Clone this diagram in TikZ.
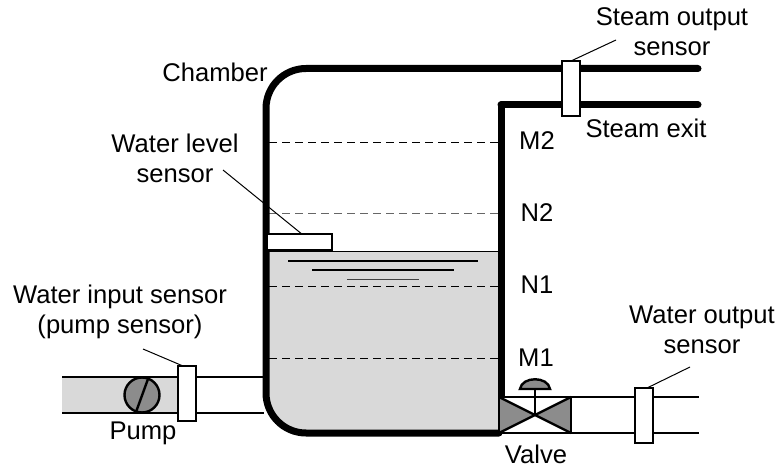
\documentclass[tikz,border=0pt]{standalone}
\usepackage{fontspec}
\setmainfont{Liberation Sans}
\definecolor{watergray}{HTML}{D9D9D9}
\definecolor{partgray}{HTML}{8C8C8C}
\tikzset{
  wall/.style={line width=7pt,line cap=round},
  pipe/.style={line width=2.4pt},
  level/.style={line width=1pt,dash pattern=on 8pt off 5pt},
  sensorbox/.style={draw,fill=white,line width=2.4pt,rectangle,minimum width=18pt,minimum height=55pt,inner sep=0pt,outer sep=0pt},
  leader/.style={line width=1pt},
  lbl/.style={font=\fontsize{25.6}{30}\selectfont,align=center,inner sep=0pt}
}
\begin{document}
\begin{tikzpicture}[x=1pt,y=-1pt]
\useasboundingbox (0,0) rectangle (777,468);
\coordinate (TL) at (266,68.5); \coordinate (BL) at (266,433); \coordinate (BR) at (499,433);
\coordinate (TE) at (698,68.5); \coordinate (LE) at (698,105); \coordinate (RT) at (501,105); \coordinate (RB) at (501,398);
\coordinate (WL) at (266,251.5); \coordinate (WR) at (501,251.5);
\coordinate (P1) at (62,377); \coordinate (P2) at (62,413); \coordinate (P3) at (264,377); \coordinate (P4) at (264,413);
\coordinate (V1) at (499,397); \coordinate (V2) at (571,397); \coordinate (V3) at (499,433); \coordinate (V4) at (571,433); \coordinate (VC) at (535,415);
\coordinate (O1) at (699,397); \coordinate (O2) at (699,433);
% water and pump side of the pipe
\fill[watergray] (WL) [rounded corners=38] -- (BL) [sharp corners] -- (BR) -- (501,433) -- (WR) -- cycle;
\fill[watergray] (P1) rectangle (178,413);
\draw[line width=1.5pt] (WL) -- (WR);
\draw[line width=1.5pt] (288,261) -- (478,261); \draw[line width=1.5pt] (312,270) -- (454,270); \draw[line width=1.5pt,black!75] (347,279.5) -- (419,279.5);
% levels
\draw[level] (269,143) -- (498,143); \draw[level,black!60] (269,214) -- (498,214);
\draw[level] (269,286.5) -- (498,286.5); \draw[level] (269,358) -- (498,358);
% pipes
\draw[pipe] (P1) -- (P3); \draw[pipe] (P2) -- (P4);
\draw[pipe] (V2) -- (O1); \draw[pipe] (V4) -- (O2);
% chamber
\draw[wall,line cap=butt] (RB) -- (RT);
\draw[wall,line join=miter] (RT) -- (LE);
\draw[wall] (TE) [rounded corners=40] -- (TL) -- (BL) [sharp corners] -- (BR);
% valve
\fill[partgray] (V1) -- (VC) -- (V3) -- cycle; \fill[partgray] (V2) -- (VC) -- (V4) -- cycle;
\draw[pipe] (V1) rectangle (V4); \draw[pipe] (V1) -- (V4); \draw[pipe] (V3) -- (V2);
\draw[pipe] (VC) -- (535,389);
\draw[pipe,fill=partgray] (520,389) .. controls (522,376) and (548,376) .. (550,389) -- cycle;
% pump
\node[circle,draw,fill=partgray,line width=2.4pt,minimum size=35pt,inner sep=0pt] (pump) at (142,395) {};
\draw[pipe] (136,412) -- (148,379);
% sensors
\node[sensorbox] (sSteam) at (571,88.5) {};
\node[sensorbox] (sIn) at (187,393.5) {};
\node[sensorbox] (sOut) at (644,415.5) {};
\node[sensorbox,minimum width=65pt,minimum height=16.5pt] (sLevel) at (299.5,242) {};
% labels
\node[lbl] (lSteam) at (672,32) {Steam output\\sensor};
\node[lbl] (lExit) at (646,128) {Steam exit};
\node[lbl] (lChamber) at (215,72) {Chamber};
\node[lbl] (lLevel) at (175,158) {Water level\\sensor};
\node[lbl] (lIn) at (120,312) {Water input sensor\\(pump sensor)};
\node[lbl] (lPump) at (143,433) {Pump};
\node[lbl] (lValve) at (536,454) {Valve};
\node[lbl] (lOut) at (702,330) {Water output\\sensor};
\node[lbl] (lM2) at (537,141) {M2}; \node[lbl] (lN2) at (537,213) {N2};
\node[lbl] (lN1) at (537,285) {N1}; \node[lbl] (lM1) at (536,358) {M1};
% leaders
\coordinate (A1) at (616,40); \coordinate (A2) at (223,170); \coordinate (A3) at (143,349); \coordinate (A4) at (690,367);
\draw[leader] (A1) -- (sSteam.north);
\draw[leader] (A2) -- ([xshift=2pt]sLevel.north);
\draw[leader] (A3) -- ([xshift=-4pt]sIn.north);
\draw[leader] (A4) -- ([xshift=3pt]sOut.north);
\end{tikzpicture}
\end{document}
